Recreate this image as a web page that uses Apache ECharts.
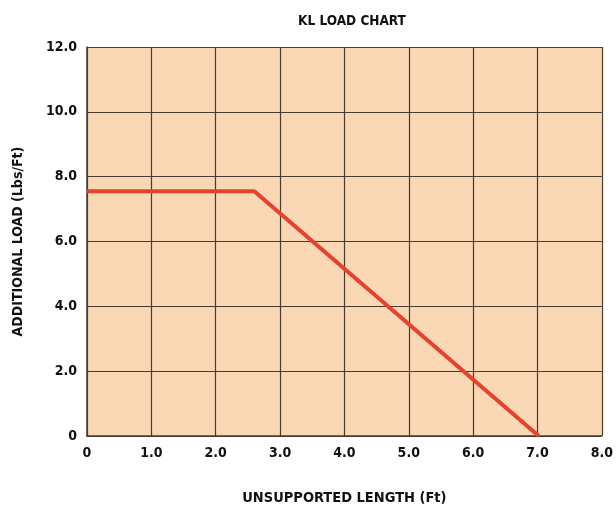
<!DOCTYPE html>
<html>
<head>
<meta charset="UTF-8">
<title>KL Load Chart</title>
<script src="https://cdn.jsdelivr.net/npm/echarts@6/dist/echarts.min.js"></script>
<style>
  html, body { margin: 0; padding: 0; background: #fff; }
  #chart { width: 616px; height: 511px; }
</style>
</head>
<body>
<div id="chart"></div>
<script>
// data
var lengthFt = [0, 2.6, 7.02];
var loadLbs = [7.55, 7.55, 0];

var font = '"DejaVu Sans Condensed", "Roboto", sans-serif';

var chart = echarts.init(document.getElementById('chart'));
var option = {
    animation: false,
    title: {
        text: 'KL LOAD CHART',
        left: 347,
        top: 9,
        textAlign: 'center',
        textStyle: { fontFamily: font, fontSize: 13.5, fontWeight: 'bold', color: '#111' }
    },
    grid: { left: 87, right: 13, top: 47, bottom: 75, show: true, backgroundColor: '#FAD7B5', borderWidth: 0 },
    xAxis: {
        type: 'value',
        min: 0, max: 8, interval: 1,
        name: 'UNSUPPORTED LENGTH (Ft)',
        nameLocation: 'middle',
        nameGap: 55,
        nameTextStyle: { fontFamily: font, fontSize: 14.5, fontWeight: 'bold', color: '#111' },
        axisLine: { show: true, lineStyle: { color: '#4a3b30', width: 1.5 } },
        axisTick: { show: false },
        splitLine: { show: true, lineStyle: { color: '#4a3b30', width: 1.2 } },
        axisLabel: {
            margin: 10,
            fontFamily: font, fontSize: 14, fontWeight: 'bold', color: '#111',
            formatter: function (v) { return v === 0 ? '0' : v.toFixed(1); }
        }
    },
    yAxis: {
        type: 'value',
        min: 0, max: 12, interval: 2,
        name: 'ADDITIONAL LOAD (Lbs/Ft)',
        nameLocation: 'middle',
        nameGap: 62,
        nameTextStyle: { fontFamily: font, fontSize: 14, fontWeight: 'bold', color: '#111' },
        axisLine: { show: true, lineStyle: { color: '#4a3b30', width: 1.5 } },
        axisTick: { show: false },
        splitLine: { show: true, lineStyle: { color: '#4a3b30', width: 1.2 } },
        axisLabel: {
            margin: 10,
            fontFamily: font, fontSize: 14, fontWeight: 'bold', color: '#111',
            formatter: function (v) { return v === 0 ? '0' : v.toFixed(1); }
        }
    },
    series: [{
        type: 'line',
        data: lengthFt.map(function (x, i) { return [x, loadLbs[i]]; }),
        symbol: 'none',
        lineStyle: { color: '#E8412C', width: 4 }
    }]
};
chart.setOption(option);
</script>
</body>
</html>
